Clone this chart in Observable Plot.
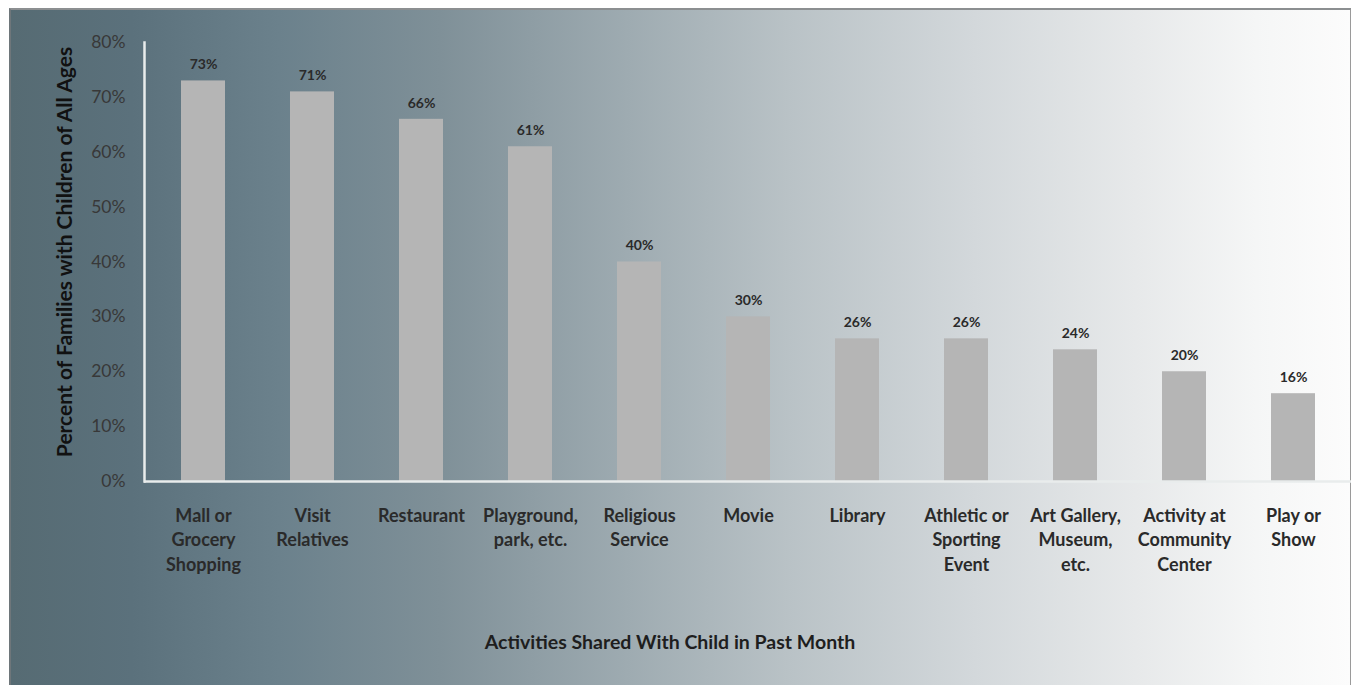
<!DOCTYPE html>
<html>
<head>
<meta charset="utf-8">
<script src="https://cdn.jsdelivr.net/npm/d3@7"></script>
<script src="https://cdn.jsdelivr.net/npm/@observablehq/plot@0.6"></script>
<style>
  html, body { margin: 0; padding: 0; background: #ffffff; }
  #wrap { position: relative; width: 1351px; height: 685px; overflow: hidden; }
  #panel {
    position: absolute; left: 9px; top: 8px; width: 1339px; height: 690px;
    border-left: 2px solid #6e767a; border-top: 2px solid #8c8f91; border-right: 2px solid #9a9a9a;
    background: linear-gradient(to right, #566b73 0%, #5b717c 9%, #6b818c 20%, #7f9098 32%, #9eabb1 46%, #b9c2c6 58%, #d3d8db 72%, #e7e9ea 84%, #f5f6f6 93%, #fcfcfc 100%);
  }
  #chart { position: absolute; left: 0; top: 0; }
</style>
</head>
<body>
<div id="wrap"><div id="panel"></div><div id="chart"></div></div>
<script>
const categories = [
  "Mall or\nGrocery\nShopping",
  "Visit\nRelatives",
  "Restaurant",
  "Playground,\npark, etc.",
  "Religious\nService",
  "Movie",
  "Library",
  "Athletic or\nSporting\nEvent",
  "Art Gallery,\nMuseum,\netc.",
  "Activity at\nCommunity\nCenter",
  "Play or\nShow"
];
const values = [73, 71, 66, 61, 40, 30, 26, 26, 24, 20, 16];
const yTicks = [0, 10, 20, 30, 40, 50, 60, 70, 80];
const yTitle = "Percent of Families with Children of All Ages";
const xTitle = "Activities Shared With Child in Past Month";

const data = categories.map((c, i) => ({category: c, value: values[i]}));

const chart = Plot.plot({
  width: 1351,
  height: 685,
  marginLeft: 144,
  marginRight: 0,
  marginTop: 42,
  marginBottom: 204,
  style: {fontFamily: "Lato, sans-serif", background: "transparent", overflow: "visible"},
  x: {domain: categories, paddingInner: 0.6, paddingOuter: 0.3},
  y: {domain: [0, 80]},
  marks: [
    Plot.barY(data, {x: "category", y: "value", fill: "#b5b5b5"}),
    Plot.ruleY([0], {stroke: "#e9ecec", strokeWidth: 2.5}),
    Plot.frame({anchor: "left", stroke: "#e9ecec", strokeWidth: 2.5}),
    Plot.text(data, {x: "category", y: "value", text: d => d.value + "%", dy: -16,
      fontSize: 14, fontWeight: "bold", fill: "#2a2a2a"}),
    Plot.axisY({ticks: yTicks, tickFormat: d => d + "%", tickSize: 0, tickPadding: 19,
      fontSize: 17.5, fill: "#383838",
      label: yTitle, labelAnchor: "center", labelArrow: "none", labelOffset: 87}),
    Plot.axisX({tickSize: 0, tickPadding: 23, fontSize: 18, fontWeight: "bold", fill: "#2a2a2a",
      lineHeight: 1.36,
      label: xTitle, labelAnchor: "center", labelArrow: "none", labelOffset: 167})
  ]
});

// style and place the axis titles
const yl = chart.querySelector("g[aria-label='y-axis label']");
if (yl) {
  yl.querySelectorAll("text").forEach(t => {
    t.setAttribute("font-size", 21); t.setAttribute("font-weight", "bold"); t.setAttribute("fill", "#111");
  });
  yl.setAttribute("transform", (yl.getAttribute("transform") || "") + " translate(0,-10)");
}
const xl = chart.querySelector("g[aria-label='x-axis label']");
if (xl) {
  xl.querySelectorAll("text").forEach(t => {
    t.setAttribute("font-size", 19.5); t.setAttribute("fill", "#1e1e1e");
  });
  xl.setAttribute("transform", (xl.getAttribute("transform") || "") + " translate(-78,0)");
}
document.getElementById("chart").appendChild(chart);
</script>
</body>
</html>
